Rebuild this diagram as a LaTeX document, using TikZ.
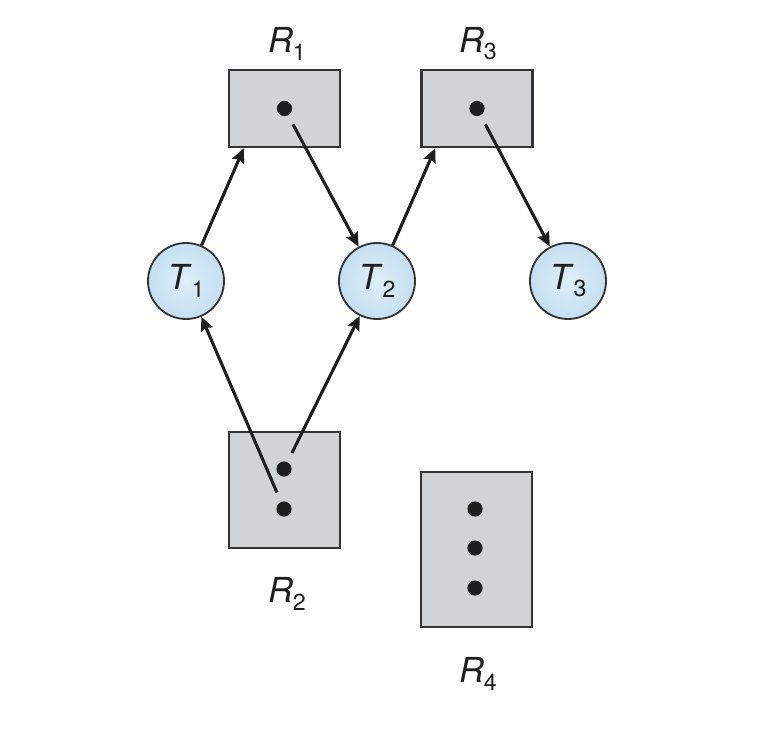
\documentclass[tikz,border=0pt]{standalone}
\usepackage{fontspec}
\setmainfont{TeX Gyre Heros}
\usetikzlibrary{arrows.meta, calc, positioning}
\definecolor{cbox}{HTML}{D1D3D4}
\definecolor{cedge}{HTML}{333333}
\definecolor{cball}{HTML}{C4DFF1}
\definecolor{cink}{HTML}{1E1E1E}
\tikzset{
  every picture/.style={line width=2.2pt},
  res/.style={draw=cedge, fill=cbox, line width=1.6pt, minimum width=2.78cm},
  thr/.style={circle, draw=cedge, line width=1.3pt, minimum size=1.9cm, inner sep=0pt,
    inner color=cball!55, outer color=cball},
  dot/.style={circle, fill=cink, inner sep=0pt, minimum size=0.38cm},
  arrow/.style={-{Stealth[length=10pt, width=9pt, inset=1.5pt]}, draw=cink, line width=2.2pt},
  lbl/.style={font=\fontsize{24.5}{28}\selectfont, text=cink},
}
\newcommand{\lname}[2]{\textit{#1}\raisebox{-0.4ex}{\fontsize{16.5}{16.5}\selectfont #2}}

\begin{document}
\begin{tikzpicture}[x=0.025cm, y=-0.025cm]
  \useasboundingbox (0,0) rectangle (780,734);
  % resources
  \node[res, minimum height=1.93cm] (R1) at (284.5,108.5) {};
  \node[res, minimum height=1.93cm] (R3) at (477,108.5) {};
  \node[res, minimum height=2.9cm] (R2) at (284.5,490) {};
  \node[res, minimum height=3.88cm] (R4) at (476.5,549.5) {};
  \node[lbl] (lR1) at (287,44) {\lname{R}{1}};
  \node[lbl] (lR3) at (478,44) {\lname{R}{3}};
  \node[lbl] (lR2) at (287,594) {\lname{R}{2}};
  \node[lbl] (lR4) at (478,674) {\lname{R}{4}};
  % threads
  \foreach \i/\x in {1/186, 2/377, 3/568}
    \node[thr, lbl] (T\i) at (\x,281) {\lname{T}{\i}};
  % instances
  \node[dot] (d1) at (R1) {};
  \node[dot] (d3) at (R3) {};
  \node[dot] (d2a) at (284,469) {};
  \node[dot] (d2b) at (284,509) {};
  \foreach \j/\y in {1/509, 2/548, 3/588}
    \node[dot] (d4\j) at (475,\y) {};
  % edges
  \coordinate (e1) at ($(R1.south west)+(16,0)$);
  \coordinate (e3) at ($(R3.south west)+(15,0)$);
  \draw[arrow] (T1) -- (e1);
  \draw[arrow] (T2) -- (e3);
  \draw[arrow, shorten <=0.22cm] (d1) -- (T2);
  \draw[arrow, shorten <=0.22cm] (d3) -- (T3);
  \draw[arrow, shorten <=0.22cm] (d2a) -- (T2);
  \draw[arrow, shorten <=0.22cm] (d2b) -- (T1);
\end{tikzpicture}
\end{document}
